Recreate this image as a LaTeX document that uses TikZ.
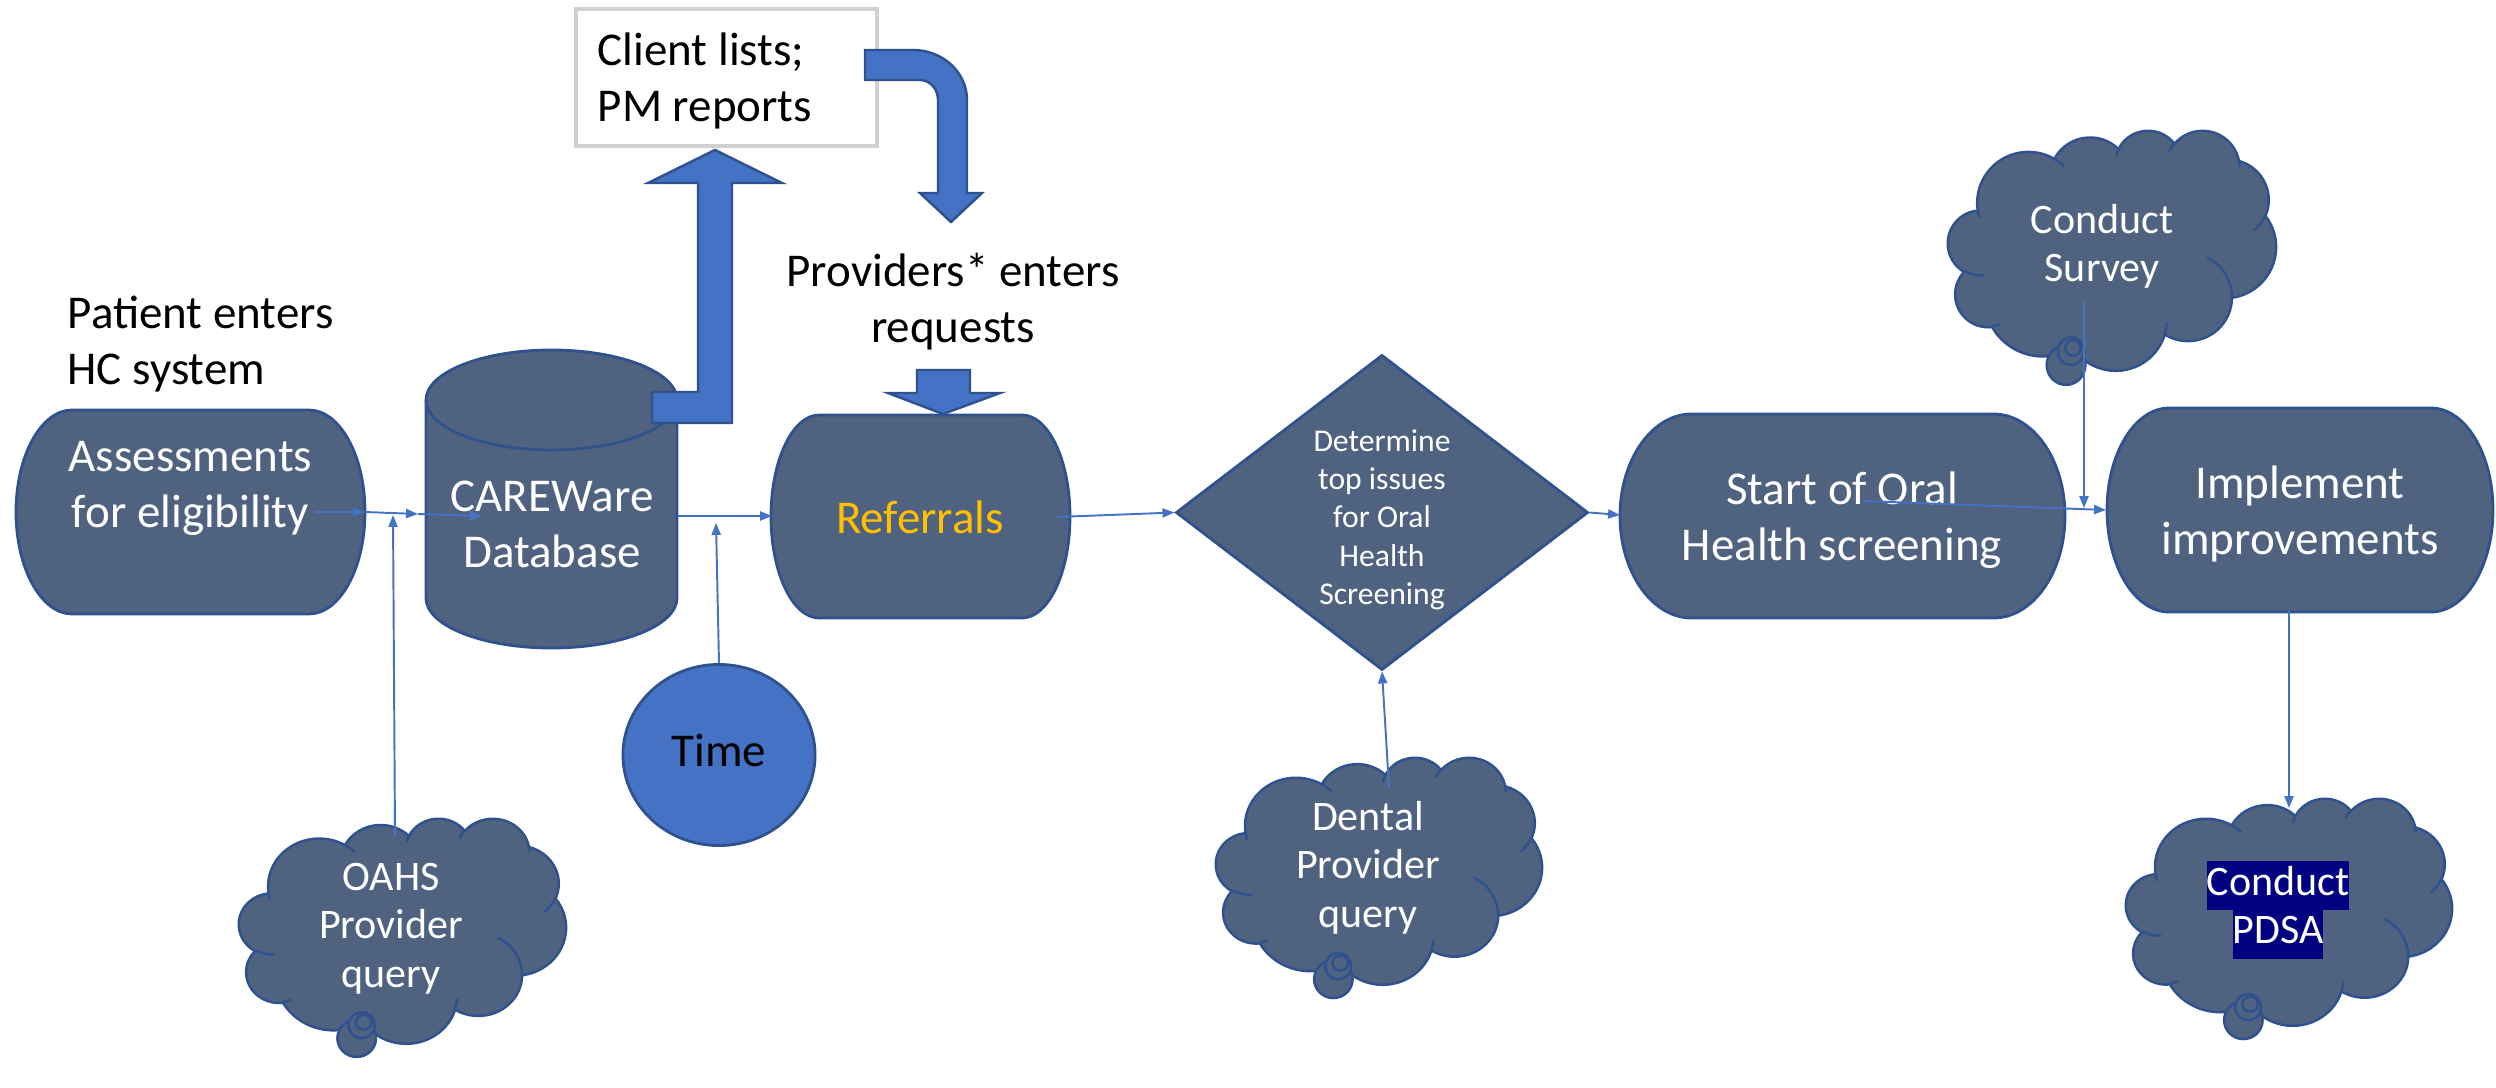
\documentclass[tikz,border=0pt]{standalone}
\usepackage{fontspec}
\setmainfont{Carlito}
\usetikzlibrary{shapes.geometric,arrows.meta}
\definecolor{slate}{HTML}{4F627F}
\definecolor{edgeblue}{HTML}{2F528F}
\definecolor{accent}{HTML}{4472C4}
\definecolor{boxgray}{HTML}{D0D0D0}
\definecolor{gold}{HTML}{FFC000}
\definecolor{navyhl}{HTML}{000080}
\setlength{\fboxsep}{0pt}

\tikzset{
  % elliptical arc given by DrawingML-style visual angles
  varc/.style n args={4}{x radius=#1, y radius=#2,
    start angle={atan2((#1)*sin(#3),(#2)*cos(#3))},
    end angle={atan2((#1)*sin(#3),(#2)*cos(#3))+mod(atan2((#1)*sin((#3)+(#4)),(#2)*cos((#3)+(#4)))-atan2((#1)*sin(#3),(#2)*cos(#3))+720,360)}},
  shapebody/.style={fill=slate, draw=edgeblue, line width=0.8pt},
  cloudbody/.style={fill=slate, draw=edgeblue, line width=0.7pt},
  crease/.style={draw=edgeblue, line width=0.7pt},
  blockarrow/.style={fill=accent, draw=edgeblue, line width=0.7pt, line join=miter},
  link/.style={draw=accent, line width=0.55pt, -{Triangle[length=3.4pt,width=2.6pt]}},
  bigtext/.style={inner sep=0pt, align=center, text=white, font=\fontsize{13.37pt}{15.93pt}\selectfont},
  outtext/.style={inner sep=0pt, align=center, text=black, font=\fontsize{13.37pt}{15.93pt}\selectfont},
  cloudtext/.style={inner sep=0pt, align=center, text=white, font=\fontsize{11.95pt}{13.8pt}\selectfont},
  smalltext/.style={inner sep=0pt, align=center, text=white, font=\fontsize{9pt}{10.9pt}\selectfont},
}

% terminator: flat top and bottom, half-elliptic ends
\newcommand\termshape[4]{%
  \pgfmathsetmacro\tmrx{0.1609*(#3-#1)}%
  \pgfmathsetmacro\tmry{(#4-#2)/2}%
  \path[shapebody] ({#1+\tmrx},#2) -- ({#3-\tmrx},#2)
    arc[start angle=-90,end angle=90,x radius=\tmrx,y radius=\tmry]
    -- ({#1+\tmrx},#4)
    arc[start angle=90,end angle=270,x radius=\tmrx,y radius=\tmry] -- cycle;}

% cloud callout in a 432 x 432 frame mapped onto the box (x0,y0,w,h)
\newcommand\cloudshape[4]{%
  \begin{scope}[shift={(#1,#2)}, x={#3/432*0.01cm}, y={-#4/432*0.01cm}]
    \path[cloudbody] (39.00,143.70)
      arc[varc={67.53}{91.90}{-190.487}{123.781}]
      arc[varc={53.33}{72.67}{-144.102}{89.945}]
      arc[varc={43.65}{59.45}{-145.808}{99.723}]
      arc[varc={48.57}{65.95}{-130.986}{117.242}]
      arc[varc={53.33}{72.73}{-78.709}{109.027}]
      arc[varc={67.75}{92.20}{-46.267}{130.269}]
      arc[varc={57.85}{78.67}{0.625}{114.033}]
      arc[varc={67.52}{92.15}{22.452}{115.173}]
      arc[varc={77.20}{105.43}{66.243}{75.711}]
      arc[varc={43.60}{59.18}{-274.942}{146.736}]
      arc[varc={43.45}{59.45}{-246.829}{152.519}]
      -- cycle;
    \path[crease]
      (46.93,261.77) arc[varc={43.45}{59.45}{86.742}{26.430}]
      (69.28,348.99) arc[varc={43.60}{59.18}{73.610}{11.447}]
      (164.78,390.90) arc[varc={67.52}{92.15}{137.624}{14.081}]
      (288.27,347.51) arc[varc={67.52}{92.15}{6.453}{15.998}]
      (341.29,229.54) arc[varc={57.85}{78.67}{-70.292}{70.917}]
      (417.98,153.54) arc[varc={53.33}{72.73}{30.318}{27.752}]
      (383.24,54.26) arc[varc={48.57}{65.95}{-13.744}{14.859}]
      (290.78,39.52) arc[varc={48.57}{65.95}{-149.181}{18.195}]
      (221.41,47.20) arc[varc={43.65}{59.45}{-163.494}{17.686}]
      (140.00,51.92) arc[varc={67.53}{91.90}{-66.707}{12.319}]
      (41.27,157.89) arc[varc={67.53}{91.90}{157.654}{11.858}];
    \path[cloudbody] (155.5,422.9) ellipse [x radius=25.5, y radius=35.9];
    \path[cloudbody] (162.0,397.9) ellipse [x radius=17.3, y radius=25.1];
    \path[cloudbody] (164.6,392.3) ellipse [x radius=10.4, y radius=14.3];
  \end{scope}}

\begin{document}
\begin{tikzpicture}[x=0.01cm,y=-0.01cm]
\useasboundingbox (0,0) rectangle (2496,1088);

% free labels
\node[outtext, anchor=west, align=left] (patient) at (67,345) {\strut Patient enters\\\strut HC system};
\node[outtext] (providers) at (953,303) {\strut Providers* enters\\\strut requests};

% report box
\node[draw=boxgray, line width=1.1pt, fill=white, minimum width=3.01cm, minimum height=1.37cm, inner sep=0pt] (clientbox) at (726.5,77.5) {};
\node[outtext, anchor=west, align=left] (clienttxt) at (597,82) {\strut Client lists;\\\strut PM reports};

% process shapes
\termshape{16}{410}{365}{614}
\node[bigtext] (assess) at (190.5,488) {\strut Assessments\\\strut for eligibility};

\path[shapebody] (426,400) -- (426,598)
  arc[start angle=180,end angle=0,x radius=125.5,y radius=50] -- (677,400)
  arc[start angle=0,end angle=-180,x radius=125.5,y radius=50] -- cycle;
\draw[edgeblue, line width=0.8pt] (426,400) arc[start angle=180,end angle=0,x radius=125.5,y radius=50];
\node[bigtext] (carew) at (552,528) {\strut CAREWare\\\strut Database};

\termshape{771}{415}{1070}{618}
\node[bigtext, text=gold] (referrals) at (920,522) {\strut Referrals};

\node[diamond, shapebody, minimum width=4.12cm, minimum height=3.15cm, inner sep=0pt] (decide) at (1382,512.5) {};
\node[smalltext] (decidetxt) at (1382,520) {\strut Determine\\\strut top issues\\\strut for Oral\\\strut Health\\\strut Screening};

\termshape{1620}{414}{2065}{618}
\node[bigtext] (startoral) at (1842,521) {\strut Start of Oral\\\strut Health screening};

\termshape{2107}{408}{2493}{612}
\node[bigtext] (implement) at (2300,515) {\strut Implement\\\strut improvements};

\node[ellipse, fill=accent, draw=edgeblue, line width=0.8pt, minimum width=1.92cm, minimum height=1.81cm, inner sep=0pt, text=black, font=\fontsize{13.37pt}{15.93pt}\selectfont] (timeoval) at (719,755) {\strut Time};

% block arrows
\path[blockarrow] (652,392) -- (698,392) -- (698,183) -- (648,183) -- (715,150) -- (782,183)
  -- (732,183) -- (732,423) -- (652,423) -- cycle;
\path[blockarrow] (865,50) -- (913,50) arc[start angle=-90,end angle=0,x radius=54,y radius=50]
  -- (967,193) -- (982,193) -- (951,222) -- (920,193) -- (938,193) -- (938,100)
  arc[start angle=0,end angle=-90,x radius=18,y radius=20] -- (865,80) -- cycle;
\path[blockarrow] (917,370) -- (970,370) -- (970,393) -- (1000,393) -- (943,414)
  -- (888,393) -- (917,393) -- cycle;

% clouds
\cloudshape{1948}{130}{328}{240}
\node[cloudtext] (survey) at (2102,248) {\strut Conduct\\\strut Survey};
\cloudshape{239}{818}{327}{225}
\node[cloudtext] (oahs) at (391,929) {\strut OAHS\\\strut Provider\\\strut query};
\cloudshape{1216}{757}{326}{227}
\node[cloudtext] (dental) at (1368,869) {\strut Dental\\\strut Provider\\\strut query};
\cloudshape{2126}{798}{326}{227}
\node[cloudtext] (pdsa) at (2278,910) {\colorbox{navyhl}{\strut Conduct}\\\colorbox{navyhl}{\strut PDSA}};

% connector ends
\coordinate (aTxt) at (315,512);
\coordinate (aEdge) at (365,512);
\coordinate (gapPt) at (418,514);
\coordinate (cwIn) at (482,516);
\coordinate (oahsTop) at (395,836);
\coordinate (oahsTip) at (393,515);
\coordinate (cwOut) at (678,516);
\coordinate (refIn) at (772,516);
\coordinate (timeTip) at (716,523);
\coordinate (refOut) at (1057,517);
\coordinate (startIn) at (1620,515);
\coordinate (startTxt) at (1863,501);
\coordinate (implIn) at (2106,510);
\coordinate (surveyStem) at (2084,302);
\coordinate (surveyTip) at (2084,508);
\coordinate (implOut) at (2289,611);
\coordinate (pdsaTop) at (2289,808);
\coordinate (dentalTop) at (1389,787);

% connectors
\draw[link] (aTxt) -- (aEdge);
\draw[link] (aEdge) -- (gapPt);
\draw[link] (gapPt) -- (cwIn);
\draw[link] (oahsTop) -- (oahsTip);
\draw[link] (cwOut) -- (refIn);
\draw[link] (timeoval.north) -- (timeTip);
\draw[link] (refOut) -- (decide.west);
\draw[link] (decide.east) -- (startIn);
\draw[link] (startTxt) -- (implIn);
\draw[link] (surveyStem) -- (surveyTip);
\draw[link] (implOut) -- (pdsaTop);
\draw[link] (dentalTop) -- (decide.south);
\end{tikzpicture}
\end{document}
